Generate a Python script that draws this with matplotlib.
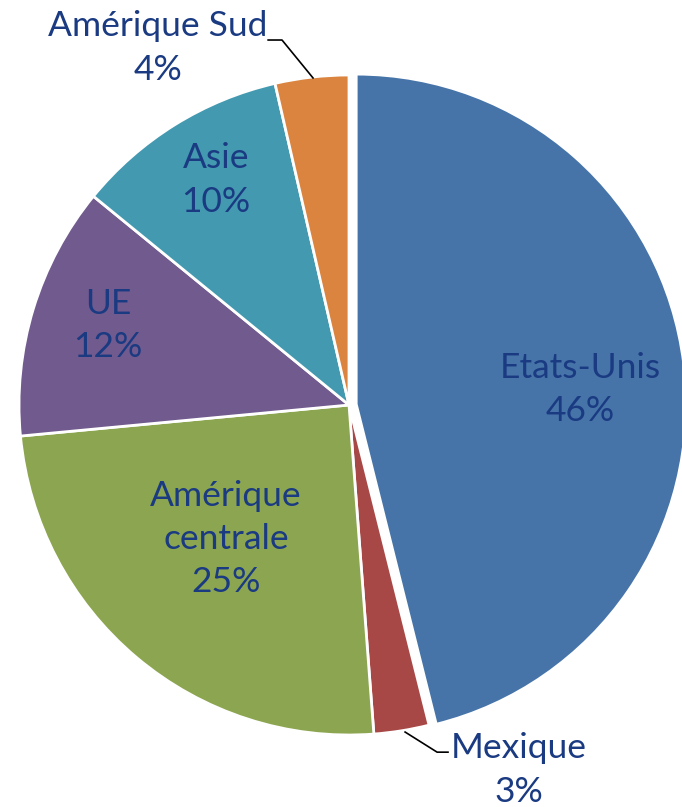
import matplotlib
matplotlib.use('Agg')
import matplotlib.pyplot as plt

# Données (parts)
regions = ['Etats-Unis', 'Mexique', 'Amérique\ncentrale', 'UE', 'Asie', 'Amérique Sud']
values = [46.1, 2.7, 24.7, 12.4, 10.5, 3.6]
pct_labels = ['46%', '3%', '25%', '12%', '10%', '4%']
colors = ['#4674A8', '#A84846', '#8CA550', '#715A8E', '#4399B0', '#DA8440']

# position des étiquettes (coordonnées du rayon unité)
label_xy = [(0.70, 0.048), (0.515, -1.106), (-0.373, -0.406),
            (-0.73, 0.24), (-0.403, 0.682), (-0.579, 1.082)]

W, H = 682, 807
cx, cy, R = 349, 405, 330

plt.rcParams['font.family'] = ['Lato', 'DejaVu Sans']

fig = plt.figure(figsize=(W / 100, H / 100), dpi=100)
ax = fig.add_axes([0, 0, 1, 1])

ax.pie(values, colors=colors, startangle=90, counterclock=False,
       explode=[0.022, 0, 0, 0, 0, 0], radius=1,
       wedgeprops=dict(edgecolor='white', linewidth=2.0))

for name, pct, (x, y) in zip(regions, pct_labels, label_xy):
    ax.text(x, y, name + '\n' + pct, ha='center', va='center',
            fontsize=25.5, color='#1A3A82', linespacing=1.43)

# traits de rappel
ax.plot([-0.245, -0.203, -0.109], [1.106, 1.106, 0.991], color='black', lw=1.2)
ax.plot([0.170, 0.267, 0.300], [-0.991, -1.052, -1.052], color='black', lw=1.2)

ax.set_xlim(-cx / R, (W - cx) / R)
ax.set_ylim(-(H - cy) / R, cy / R)
ax.set_aspect('equal')
ax.axis('off')

fig.savefig('out.png', dpi=100)
